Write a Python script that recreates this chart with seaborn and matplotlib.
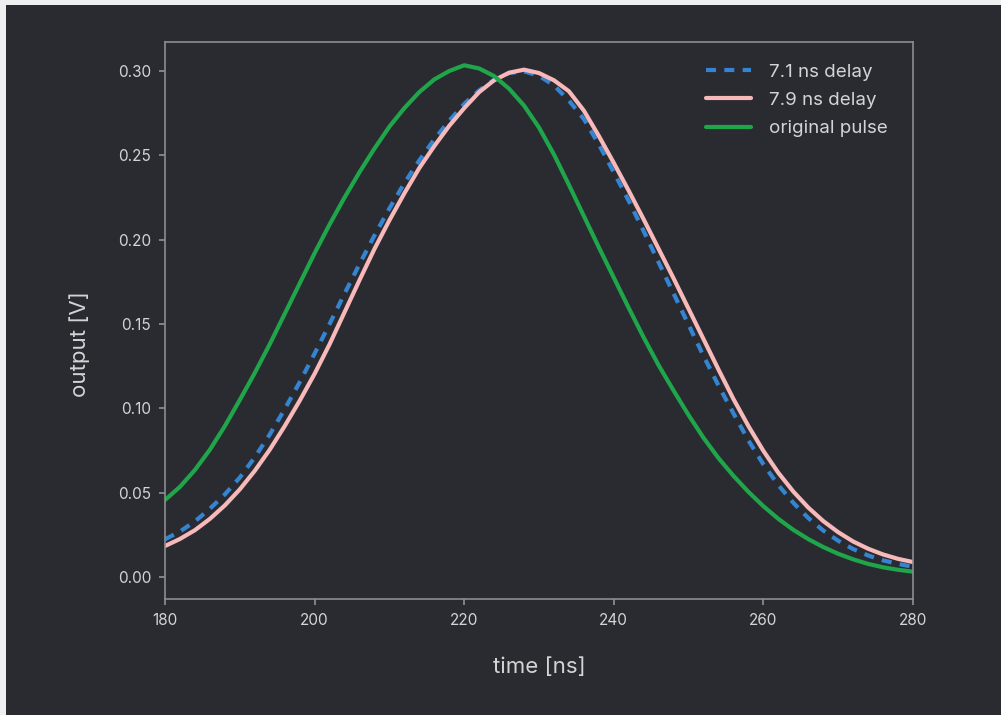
import matplotlib
matplotlib.use("Agg")
import matplotlib.pyplot as plt
from matplotlib.patches import Rectangle
from matplotlib.ticker import FormatStrFormatter
import seaborn as sns

# Valeurs : temps en ns (pas de 2 ns), sortie en V
t_ns = list(range(180, 282, 2))

v_orig = [0.0457, 0.0535, 0.0635, 0.0755, 0.0895, 0.105, 0.121, 0.138, 0.156, 0.174,
          0.192, 0.209, 0.225, 0.240, 0.254, 0.267, 0.278, 0.2875, 0.295, 0.300,
          0.3034, 0.3015, 0.297, 0.2895, 0.2795, 0.2665, 0.2505, 0.2325, 0.2140, 0.1955,
          0.1775, 0.1595, 0.142, 0.1255, 0.1105, 0.096, 0.0825, 0.0705, 0.060, 0.0505,
          0.042, 0.0345, 0.028, 0.0225, 0.0178, 0.0138, 0.0105, 0.0078, 0.0058, 0.0043,
          0.0032]

v_79 = [0.0184, 0.0226, 0.0278, 0.0345, 0.0425, 0.052, 0.063, 0.0755, 0.0895, 0.1045,
        0.1205, 0.138, 0.157, 0.176, 0.1945, 0.2115, 0.2275, 0.2425, 0.2555, 0.2675,
        0.278, 0.2875, 0.2945, 0.299, 0.3008, 0.2988, 0.2945, 0.288, 0.2765, 0.2615,
        0.2455, 0.229, 0.212, 0.1945, 0.177, 0.159, 0.141, 0.123, 0.1055, 0.0895,
        0.0748, 0.0618, 0.0507, 0.0412, 0.0332, 0.0266, 0.0211, 0.0168, 0.0134, 0.0108,
        0.0089]

v_71 = [0.0224, 0.027, 0.033, 0.0405, 0.049, 0.059, 0.071, 0.0845, 0.0995, 0.1155,
        0.1325, 0.150, 0.168, 0.1855, 0.2025, 0.2185, 0.2335, 0.247, 0.2595, 0.2705,
        0.2805, 0.2885, 0.2948, 0.2988, 0.2998, 0.2972, 0.2915, 0.2825, 0.2715, 0.2565,
        0.240, 0.223, 0.205, 0.1865, 0.168, 0.1495, 0.131, 0.1135, 0.097, 0.081,
        0.0668, 0.0545, 0.044, 0.035, 0.0276, 0.0215, 0.0166, 0.0128, 0.0099, 0.0078,
        0.0061]

bg = "#2a2b30"
txt = "#d4d4d6"
grey = "#8c8d91"

sns.set_theme(style="dark", rc={
    "axes.facecolor": bg,
    "figure.facecolor": "#efefef",
    "axes.edgecolor": grey,
    "axes.linewidth": 1.2,
    "xtick.color": grey,
    "ytick.color": grey,
    "xtick.labelcolor": txt,
    "ytick.labelcolor": txt,
    "xtick.bottom": True,
    "ytick.left": True,
    "xtick.major.size": 4,
    "ytick.major.size": 4,
    "axes.labelcolor": txt,
})
plt.rcParams["font.family"] = ["Inter", "DejaVu Sans"]

fig = plt.figure(figsize=(10.01, 7.15), dpi=100)
# fond sombre, avec la fine bordure claire en haut et à gauche
fig.patches.append(Rectangle((6 / 1001, 0), 1, 1 - 5 / 715, transform=fig.transFigure,
                             facecolor=bg, edgecolor="none", zorder=-10))
ax = fig.add_axes([165 / 1001, 1 - 599 / 715, (913 - 165) / 1001, (599 - 42) / 715])

sns.lineplot(x=t_ns, y=v_71, ax=ax, color="#3584d2", linewidth=3,
             linestyle=(0, (2.4, 2)), label="7.1 ns delay")
sns.lineplot(x=t_ns, y=v_79, ax=ax, color="#f7b9b9", linewidth=3,
             label="7.9 ns delay")
sns.lineplot(x=t_ns, y=v_orig, ax=ax, color="#1fa64a", linewidth=3,
             label="original pulse")

ax.set_xlim(180, 280)
ax.set_ylim(-0.013, 0.3172)
ax.set_xticks([180, 200, 220, 240, 260, 280])
ax.set_yticks([0.0, 0.05, 0.10, 0.15, 0.20, 0.25, 0.30])
ax.yaxis.set_major_formatter(FormatStrFormatter("%.2f"))
ax.tick_params(labelsize=11, pad=6)
ax.set_xlabel("time [ns]", fontsize=16)
ax.set_ylabel("output [V]", fontsize=16)
ax.xaxis.set_label_coords(0.501, -0.104)
ax.yaxis.set_label_coords(-0.100, 0.458)

leg = ax.legend(loc="upper right", frameon=False, fontsize=13.5, handlelength=2.4,
                handletextpad=0.95, labelspacing=0.6, borderaxespad=0,
                bbox_to_anchor=(1 - 18 / 748, 1 - 14 / 557))
for t in leg.get_texts():
    t.set_color(txt)

fig.savefig("out.png", dpi=100, facecolor=fig.get_facecolor())
